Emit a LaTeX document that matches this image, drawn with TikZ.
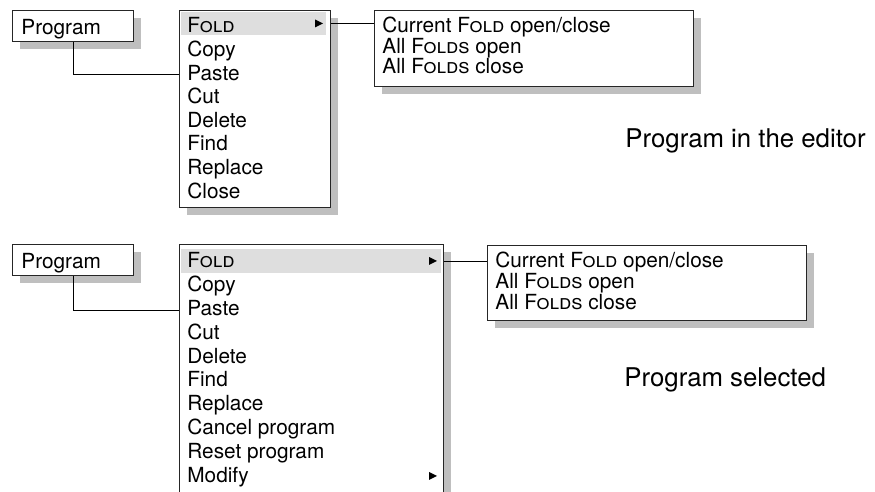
\documentclass[tikz,border=0pt]{standalone}
\usepackage{fontspec}
\setmainfont{TeX Gyre Heros}
\usetikzlibrary{shadows}
\newcommand{\pxu}{0.5pt}

\begin{document}
\begin{tikzpicture}[x=0.5pt,y=-0.5pt,
  pane/.style={draw=black!85,line width=0.6pt,fill=white,anchor=north west,inner sep=0pt,
    drop shadow={shadow xshift=3.5pt,shadow yshift=-3.5pt,fill=black!25,opacity=1}},
  hilite/.style={fill=black!13,anchor=north west,inner sep=0pt},
  entry/.style={anchor=base west,inner sep=0pt,text height=0.72em,text depth=0.2em,
    font=\fontsize{10.4}{12}\selectfont},
  caption/.style={anchor=base west,inner sep=0pt,font=\fontsize{12.9}{15}\selectfont},
  link/.style={line width=0.5pt}]
  \useasboundingbox (0,0) rectangle (875,492);
  \clip (0,0) rectangle (875,492);

  % program in the editor
  \node[pane,minimum width=121*\pxu,minimum height=31*\pxu](progA) at (12,10) {};
  \node[pane,minimum width=151*\pxu,minimum height=197*\pxu](menuA) at (179,10) {};
  \node[pane,minimum width=319*\pxu,minimum height=76*\pxu](subA) at (374,10) {};
  \node[hilite,minimum width=145*\pxu,minimum height=23*\pxu](foldA) at (181,12) {};

  \node[entry](progAtext) at (21,35) {Program};
  \node[entry](foldAtext) at (187,33) {\textsc{Fold}};
  \node[entry](copyA) at (187,56.6) {Copy};
  \node[entry](pasteA) at (187,80.2) {Paste};
  \node[entry](cutA) at (187,103.8) {Cut};
  \node[entry](deleteA) at (187,127.4) {Delete};
  \node[entry](findA) at (187,151) {Find};
  \node[entry](replaceA) at (187,174.6) {Replace};
  \node[entry](closeA) at (187,198.2) {Close};
  \fill (315,19.5) -- (323,23.5) -- (315,27.5) -- cycle;

  \node[entry](curA) at (382,33) {Current \textsc{Fold} open/close};
  \node[entry](openA) at (382,53.5) {All \textsc{Folds} open};
  \node[entry](shutA) at (382,74) {All \textsc{Folds} close};

  \node[caption](capA) at (625,148) {Program in the editor};

  \draw[link] (progA.south) |- (menuA.west |- pasteA);
  \draw[link] (menuA.east |- foldA) -- (subA.west |- foldA);

  % program selected
  \node[pane,minimum width=121*\pxu,minimum height=31*\pxu](progB) at (12,244) {};
  \node[pane,minimum width=264*\pxu,minimum height=270*\pxu](menuB) at (179,244) {};
  \node[pane,minimum width=319*\pxu,minimum height=75*\pxu](subB) at (487,245) {};
  \node[hilite,minimum width=260*\pxu,minimum height=24*\pxu](foldB) at (181,249) {};

  \node[entry](progBtext) at (21,269) {Program};
  \node[entry](foldBtext) at (187,268) {\textsc{Fold}};
  \node[entry](copyB) at (187,291.8) {Copy};
  \node[entry](pasteB) at (187,315.6) {Paste};
  \node[entry](cutB) at (187,339.4) {Cut};
  \node[entry](deleteB) at (187,363.2) {Delete};
  \node[entry](findB) at (187,387) {Find};
  \node[entry](replaceB) at (187,410.8) {Replace};
  \node[entry](cancelB) at (187,434.6) {Cancel program};
  \node[entry](resetB) at (187,458.4) {Reset program};
  \node[entry](modifyB) at (187,482.2) {Modify};
  \fill (429,257) -- (437,261) -- (429,265) -- cycle;
  \fill (429,472) -- (437,476) -- (429,480) -- cycle;

  \node[entry](curB) at (495,268) {Current \textsc{Fold} open/close};
  \node[entry](openB) at (495,289) {All \textsc{Folds} open};
  \node[entry](shutB) at (495,310) {All \textsc{Folds} close};

  \node[caption](capB) at (624,387) {Program selected};

  \draw[link] (progB.south) |- (menuB.west |- pasteB);
  \draw[link] (menuB.east |- foldB) -- (subB.west |- foldB);
\end{tikzpicture}
\end{document}
